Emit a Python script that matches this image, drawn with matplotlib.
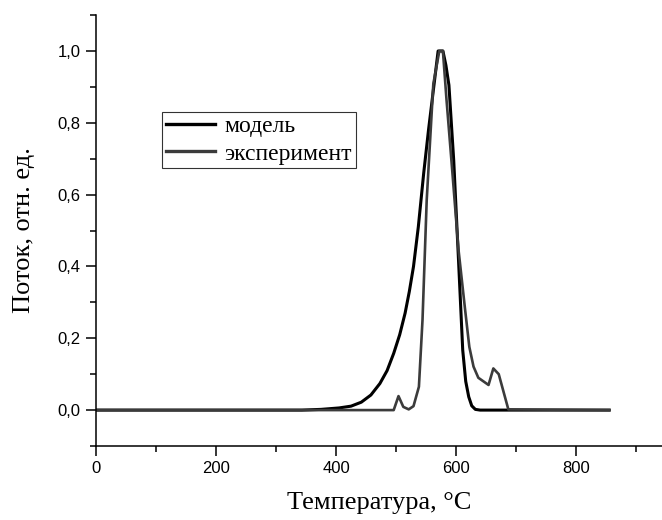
import matplotlib
matplotlib.use('Agg')
import matplotlib.pyplot as plt
from matplotlib.ticker import MultipleLocator, FuncFormatter

# model curve (black)
model_t = [0, 343, 375, 405, 425, 442, 458, 473, 485, 496, 506, 515, 522, 529,
           537, 546, 554, 562, 566, 570, 578, 583, 588, 596, 604, 611, 616,
           621, 626, 632, 640, 855]
model_v = [0, 0, 0.002, 0.006, 0.011, 0.022, 0.042, 0.074, 0.11, 0.158, 0.21,
           0.27, 0.33, 0.40, 0.51, 0.66, 0.78, 0.89, 0.945, 1.0, 1.0, 0.96,
           0.905, 0.695, 0.417, 0.167, 0.08, 0.037, 0.012, 0.002, 0, 0]

# experiment curve (grey)
exp_t = [0, 496, 504, 512, 521, 529, 538, 544, 551, 562, 572, 578, 584, 593,
         604, 615, 622, 629, 637, 654, 662, 671, 687, 855]
exp_v = [0, 0, 0.039, 0.009, 0.002, 0.011, 0.065, 0.251, 0.585, 0.908, 1.0,
         1.0, 0.864, 0.678, 0.446, 0.279, 0.176, 0.121, 0.090, 0.070, 0.116,
         0.100, 0.002, 0]

labels = ['модель', 'эксперимент']

serif = 'Liberation Serif'
sans = 'Liberation Sans'

fig = plt.figure(figsize=(6.62, 5.2), dpi=100)
ax = fig.add_axes([0.145, 0.1423, 0.855, 0.8287])

ax.plot(model_t, model_v, color='black', lw=2.2, label=labels[0])
ax.plot(exp_t, exp_v, color='#3b3b3b', lw=1.9, label=labels[1])

ax.set_xlim(0, 943)
ax.set_ylim(-0.1, 1.1)

ax.spines['top'].set_visible(False)
ax.spines['right'].set_visible(False)
for s in ['left', 'bottom']:
    ax.spines[s].set_linewidth(1.1)

ax.xaxis.set_major_locator(MultipleLocator(200))
ax.xaxis.set_minor_locator(MultipleLocator(100))
ax.yaxis.set_major_locator(MultipleLocator(0.2))
ax.yaxis.set_minor_locator(MultipleLocator(0.1))
ax.yaxis.set_major_formatter(FuncFormatter(lambda v, p: f'{v:.1f}'.replace('.', ',')))

ax.tick_params(which='major', direction='out', length=7, width=1.1, pad=4,
               labelsize=12)
ax.tick_params(which='minor', direction='out', length=4, width=1.1)
for lab in ax.get_xticklabels() + ax.get_yticklabels():
    lab.set_family(sans)

ax.set_xlabel('Температура, °C', family=serif, fontsize=19, labelpad=11)
ax.set_ylabel('Поток, отн. ед.', family=serif, fontsize=19, labelpad=16)

leg = ax.legend(loc='upper left', bbox_to_anchor=(0.1166, 0.775),
                prop={'family': serif, 'size': 17}, frameon=True, fancybox=False,
                borderpad=0.15, borderaxespad=0, handlelength=2.1,
                handletextpad=0.4, labelspacing=0.25)
leg.get_frame().set_edgecolor('black')
leg.get_frame().set_linewidth(0.8)
for line in leg.get_lines():
    line.set_linewidth(2.4)

fig.savefig('out.png', dpi=100)
